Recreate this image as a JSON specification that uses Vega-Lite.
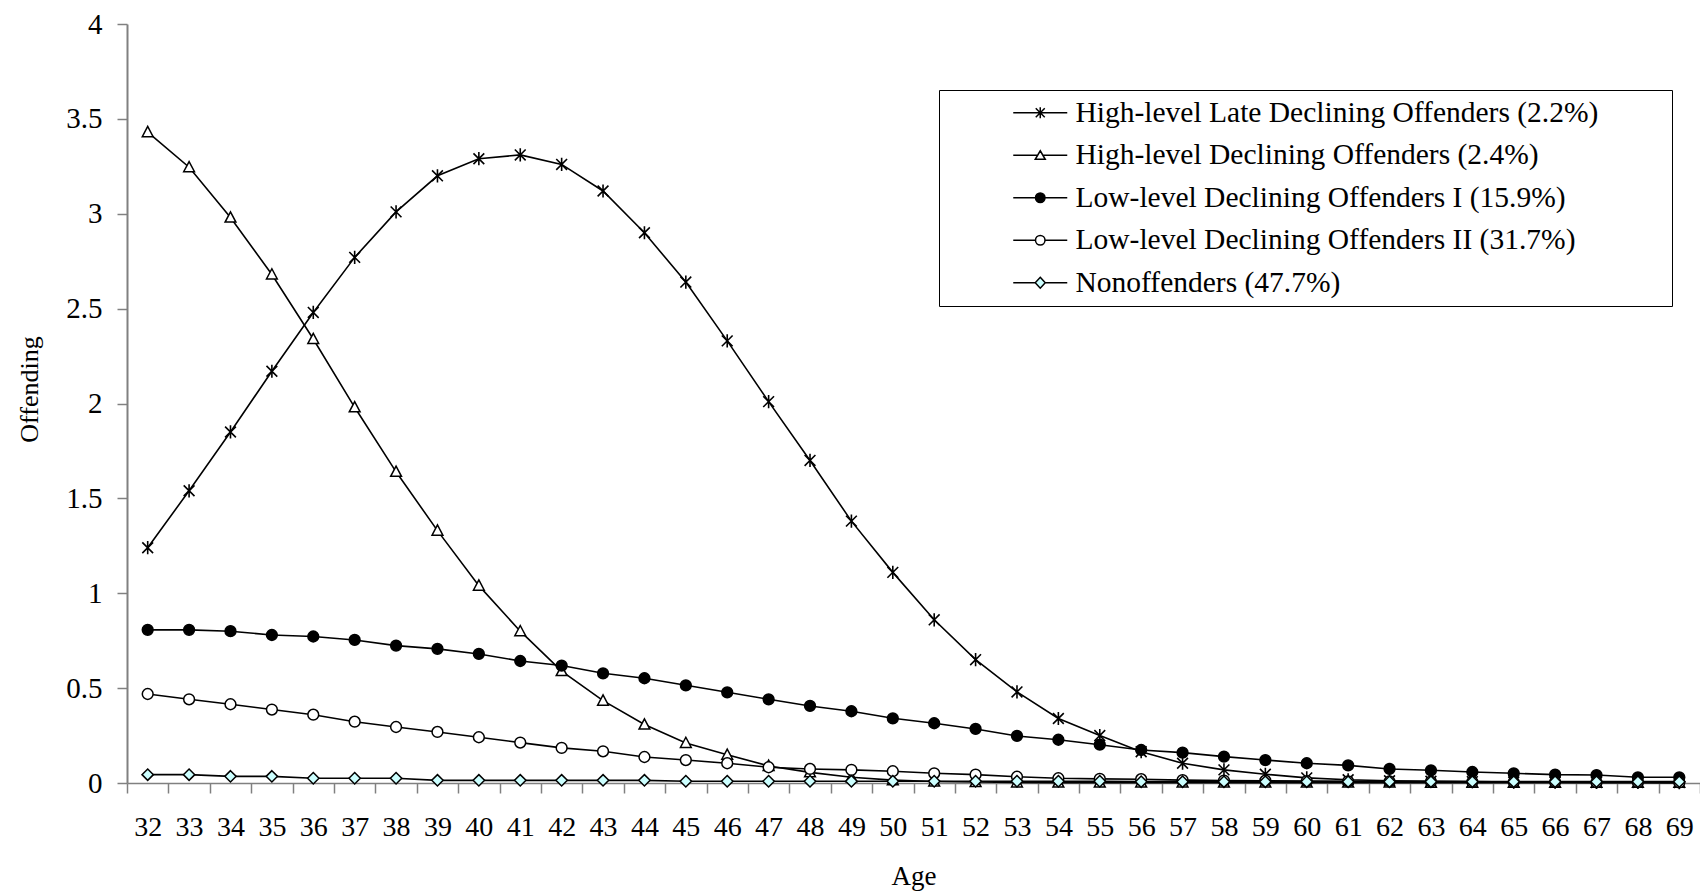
{
 "$schema": "https://vega.github.io/schema/vega-lite/v6.json",
 "width": 1573, "height": 759,
 "autosize": {"type": "none"},
 "padding": {"left": 127, "top": 24, "right": 0, "bottom": 108},
 "background": "white",
 "config": {"view": {"stroke": null}, "font": "Liberation Serif"},
 "data": {"values": [
{"age":32,"s":"A","v":1.24},{"age":33,"s":"A","v":1.54},{"age":34,"s":"A","v":1.85},{"age":35,"s":"A","v":2.17},{"age":36,"s":"A","v":2.48},{"age":37,"s":"A","v":2.77},{"age":38,"s":"A","v":3.01},{"age":39,"s":"A","v":3.2},{"age":40,"s":"A","v":3.29},{"age":41,"s":"A","v":3.31},{"age":42,"s":"A","v":3.26},{"age":43,"s":"A","v":3.12},{"age":44,"s":"A","v":2.9},{"age":45,"s":"A","v":2.64},{"age":46,"s":"A","v":2.33},{"age":47,"s":"A","v":2.01},{"age":48,"s":"A","v":1.7},{"age":49,"s":"A","v":1.38},{"age":50,"s":"A","v":1.11},{"age":51,"s":"A","v":0.86},{"age":52,"s":"A","v":0.65},{"age":53,"s":"A","v":0.48},{"age":54,"s":"A","v":0.34},{"age":55,"s":"A","v":0.25},{"age":56,"s":"A","v":0.165},{"age":57,"s":"A","v":0.104},{"age":58,"s":"A","v":0.069},{"age":59,"s":"A","v":0.046},{"age":60,"s":"A","v":0.027},{"age":61,"s":"A","v":0.017},{"age":62,"s":"A","v":0.012},{"age":63,"s":"A","v":0.009},{"age":64,"s":"A","v":0.007},{"age":65,"s":"A","v":0.005},{"age":66,"s":"A","v":0.004},{"age":67,"s":"A","v":0.003},{"age":68,"s":"A","v":0.003},{"age":69,"s":"A","v":0.002},
{"age":32,"s":"B","v":3.43},{"age":33,"s":"B","v":3.245},{"age":34,"s":"B","v":2.98},{"age":35,"s":"B","v":2.68},{"age":36,"s":"B","v":2.34},{"age":37,"s":"B","v":1.98},{"age":38,"s":"B","v":1.64},{"age":39,"s":"B","v":1.33},{"age":40,"s":"B","v":1.04},{"age":41,"s":"B","v":0.8},{"age":42,"s":"B","v":0.59},{"age":43,"s":"B","v":0.434},{"age":44,"s":"B","v":0.308},{"age":45,"s":"B","v":0.211},{"age":46,"s":"B","v":0.149},{"age":47,"s":"B","v":0.09},{"age":48,"s":"B","v":0.056},{"age":49,"s":"B","v":0.03},{"age":50,"s":"B","v":0.015},{"age":51,"s":"B","v":0.008},{"age":52,"s":"B","v":0.005},{"age":53,"s":"B","v":0.003},{"age":54,"s":"B","v":0.002},{"age":55,"s":"B","v":0.002},{"age":56,"s":"B","v":0.002},{"age":57,"s":"B","v":0.002},{"age":58,"s":"B","v":0.002},{"age":59,"s":"B","v":0.002},{"age":60,"s":"B","v":0.002},{"age":61,"s":"B","v":0.002},{"age":62,"s":"B","v":0.002},{"age":63,"s":"B","v":0.001},{"age":64,"s":"B","v":0.001},{"age":65,"s":"B","v":0.001},{"age":66,"s":"B","v":0.001},{"age":67,"s":"B","v":0.001},{"age":68,"s":"B","v":0.001},{"age":69,"s":"B","v":0.001},
{"age":32,"s":"C","v":0.807},{"age":33,"s":"C","v":0.807},{"age":34,"s":"C","v":0.8},{"age":35,"s":"C","v":0.78},{"age":36,"s":"C","v":0.772},{"age":37,"s":"C","v":0.754},{"age":38,"s":"C","v":0.724},{"age":39,"s":"C","v":0.707},{"age":40,"s":"C","v":0.68},{"age":41,"s":"C","v":0.643},{"age":42,"s":"C","v":0.619},{"age":43,"s":"C","v":0.578},{"age":44,"s":"C","v":0.552},{"age":45,"s":"C","v":0.515},{"age":46,"s":"C","v":0.478},{"age":47,"s":"C","v":0.441},{"age":48,"s":"C","v":0.406},{"age":49,"s":"C","v":0.378},{"age":50,"s":"C","v":0.341},{"age":51,"s":"C","v":0.315},{"age":52,"s":"C","v":0.285},{"age":53,"s":"C","v":0.248},{"age":54,"s":"C","v":0.228},{"age":55,"s":"C","v":0.202},{"age":56,"s":"C","v":0.174},{"age":57,"s":"C","v":0.16},{"age":58,"s":"C","v":0.139},{"age":59,"s":"C","v":0.121},{"age":60,"s":"C","v":0.104},{"age":61,"s":"C","v":0.093},{"age":62,"s":"C","v":0.074},{"age":63,"s":"C","v":0.067},{"age":64,"s":"C","v":0.058},{"age":65,"s":"C","v":0.051},{"age":66,"s":"C","v":0.044},{"age":67,"s":"C","v":0.042},{"age":68,"s":"C","v":0.03},{"age":69,"s":"C","v":0.03},
{"age":32,"s":"D","v":0.469},{"age":33,"s":"D","v":0.441},{"age":34,"s":"D","v":0.415},{"age":35,"s":"D","v":0.387},{"age":36,"s":"D","v":0.36},{"age":37,"s":"D","v":0.323},{"age":38,"s":"D","v":0.295},{"age":39,"s":"D","v":0.269},{"age":40,"s":"D","v":0.241},{"age":41,"s":"D","v":0.213},{"age":42,"s":"D","v":0.185},{"age":43,"s":"D","v":0.167},{"age":44,"s":"D","v":0.137},{"age":45,"s":"D","v":0.121},{"age":46,"s":"D","v":0.104},{"age":47,"s":"D","v":0.083},{"age":48,"s":"D","v":0.074},{"age":49,"s":"D","v":0.069},{"age":50,"s":"D","v":0.062},{"age":51,"s":"D","v":0.051},{"age":52,"s":"D","v":0.044},{"age":53,"s":"D","v":0.033},{"age":54,"s":"D","v":0.025},{"age":55,"s":"D","v":0.022},{"age":56,"s":"D","v":0.02},{"age":57,"s":"D","v":0.015},{"age":58,"s":"D","v":0.013},{"age":59,"s":"D","v":0.012},{"age":60,"s":"D","v":0.01},{"age":61,"s":"D","v":0.009},{"age":62,"s":"D","v":0.008},{"age":63,"s":"D","v":0.007},{"age":64,"s":"D","v":0.006},{"age":65,"s":"D","v":0.005},{"age":66,"s":"D","v":0.005},{"age":67,"s":"D","v":0.004},{"age":68,"s":"D","v":0.004},{"age":69,"s":"D","v":0.003},
{"age":32,"s":"E","v":0.044},{"age":33,"s":"E","v":0.044},{"age":34,"s":"E","v":0.035},{"age":35,"s":"E","v":0.035},{"age":36,"s":"E","v":0.025},{"age":37,"s":"E","v":0.025},{"age":38,"s":"E","v":0.025},{"age":39,"s":"E","v":0.014},{"age":40,"s":"E","v":0.014},{"age":41,"s":"E","v":0.014},{"age":42,"s":"E","v":0.014},{"age":43,"s":"E","v":0.014},{"age":44,"s":"E","v":0.014},{"age":45,"s":"E","v":0.009},{"age":46,"s":"E","v":0.009},{"age":47,"s":"E","v":0.009},{"age":48,"s":"E","v":0.009},{"age":49,"s":"E","v":0.009},{"age":50,"s":"E","v":0.009},{"age":51,"s":"E","v":0.009},{"age":52,"s":"E","v":0.009},{"age":53,"s":"E","v":0.009},{"age":54,"s":"E","v":0.009},{"age":55,"s":"E","v":0.009},{"age":56,"s":"E","v":0.007},{"age":57,"s":"E","v":0.007},{"age":58,"s":"E","v":0.007},{"age":59,"s":"E","v":0.007},{"age":60,"s":"E","v":0.007},{"age":61,"s":"E","v":0.007},{"age":62,"s":"E","v":0.007},{"age":63,"s":"E","v":0.007},{"age":64,"s":"E","v":0.007},{"age":65,"s":"E","v":0.007},{"age":66,"s":"E","v":0.007},{"age":67,"s":"E","v":0.007},{"age":68,"s":"E","v":0.007},{"age":69,"s":"E","v":0.007}
 ]},
 "transform": [
  {"lookup": "s", "from": {"data": {"values": [
    {"s": "A", "name": "High-level Late Declining Offenders (2.2%)"},
    {"s": "B", "name": "High-level Declining Offenders (2.4%)"},
    {"s": "C", "name": "Low-level Declining Offenders I (15.9%)"},
    {"s": "D", "name": "Low-level Declining Offenders II (31.7%)"},
    {"s": "E", "name": "Nonoffenders (47.7%)"}
  ]}, "key": "s", "fields": ["name"]}}
 ],
 "encoding": {
  "x": {"field": "age", "type": "ordinal", "bandPosition": 0.5,
   "scale": {"type": "band", "paddingInner": 0, "paddingOuter": 0},
   "axis": {"title": "Age", "titleFont": "Liberation Serif", "titleFontSize": 27, "titleFontWeight": "normal", "titleColor": "black", "titlePadding": 22,
    "labelAngle": 0, "labelFont": "Liberation Serif", "labelFontSize": 28, "labelColor": "black", "labelPadding": 20,
    "tickBand": "extent", "tickSize": 10, "tickColor": "#808080", "tickWidth": 1.5, "domainColor": "#808080", "domainWidth": 1.5, "grid": false}},
  "y": {"field": "v", "type": "quantitative",
   "scale": {"domain": [0, 4], "nice": false},
   "axis": {"title": "Offending", "titleFont": "Liberation Serif", "titleFontSize": 26, "titleFontWeight": "normal", "titleColor": "black",
    "titleX": -90, "titleY": 365, "titleBaseline": "alphabetic", "titleAlign": "center", "titleAngle": -90,
    "values": [0, 0.5, 1, 1.5, 2, 2.5, 3, 3.5, 4], "format": ".1~f",
    "labelFont": "Liberation Serif", "labelFontSize": 29, "labelColor": "black", "labelPadding": 15,
    "tickSize": 10, "tickColor": "#808080", "tickWidth": 1.5, "domainColor": "#808080", "domainWidth": 2, "grid": false}}
 },
 "layer": [
  {"mark": {"type": "line", "color": "black", "strokeWidth": 1.6},
   "encoding": {"detail": {"field": "s"}}},
  {"transform": [{"filter": {"field": "s", "equal": "A"}}],
   "mark": {"type": "point", "shape": "M-0.9,-0.9L0.9,0.9M-0.9,0.9L0.9,-0.9M0,-1.1L0,1.1", "filled": false, "fill": "white", "stroke": "black", "strokeWidth": 1.6, "size": 144, "opacity": 1}},
  {"transform": [{"filter": {"field": "s", "equal": "B"}}],
   "mark": {"type": "point", "shape": "M0,-0.95L0.9,0.75L-0.9,0.75Z", "filled": true, "fill": "white", "stroke": "black", "strokeWidth": 1.5, "size": 144, "opacity": 1}},
  {"transform": [{"filter": {"field": "s", "equal": "C"}}],
   "mark": {"type": "point", "shape": "M0.9,0A0.9,0.9 0 1,1 -0.9,0A0.9,0.9 0 1,1 0.9,0Z", "filled": true, "fill": "black", "stroke": "black", "strokeWidth": 1.5, "size": 144, "opacity": 1}},
  {"transform": [{"filter": {"field": "s", "equal": "D"}}],
   "mark": {"type": "point", "shape": "M0.9,0A0.9,0.9 0 1,1 -0.9,0A0.9,0.9 0 1,1 0.9,0Z", "filled": true, "fill": "white", "stroke": "black", "strokeWidth": 1.5, "size": 144, "opacity": 1}},
  {"transform": [{"filter": {"field": "s", "equal": "E"}}],
   "mark": {"type": "point", "shape": "M0,-0.95L0.95,0L0,0.95L-0.95,0Z", "filled": true, "fill": "#CCFFFF", "stroke": "black", "strokeWidth": 1.5, "size": 144, "opacity": 1}},
  {"mark": {"type": "point", "filled": true, "opacity": 1, "size": 0, "stroke": "black", "strokeWidth": 1.5},
   "encoding": {
    "shape": {"field": "name", "type": "nominal",
     "scale": {"domain": ["High-level Late Declining Offenders (2.2%)", "High-level Declining Offenders (2.4%)", "Low-level Declining Offenders I (15.9%)", "Low-level Declining Offenders II (31.7%)", "Nonoffenders (47.7%)"],
      "range": ["M-5.4,0L5.4,0M-0.9,-0.9L0.9,0.9M-0.9,0.9L0.9,-0.9M0,-1.1L0,1.1", "M-5.4,0L-0.53,0M0.53,0L5.4,0M0,-0.9L1,0.8L-1,0.8Z", "M-5.4,0L5.4,0M0.95,0A0.95,0.95 0 1,1 -0.95,0A0.95,0.95 0 1,1 0.95,0Z", "M-5.4,0L-0.95,0M0.95,0L5.4,0M0.95,0A0.95,0.95 0 1,1 -0.95,0A0.95,0.95 0 1,1 0.95,0Z", "M-5.4,0L-1,0M1,0L5.4,0M0,-1.1L1,0L0,1.1L-1,0Z"]},
     "legend": {"title": " ", "titleOrient": "right", "titlePadding": 66, "orient": "none", "legendX": 812, "legendY": 66,
      "padding": 8, "symbolSize": 100, "symbolOffset": 78.5, "labelOffset": 20.5, "rowPadding": 11.5,
      "labelFont": "Liberation Serif", "labelFontSize": 29.5, "labelColor": "black", "labelLimit": 2000,
      "strokeColor": "black", "fillColor": "white"}},
    "fill": {"field": "name", "type": "nominal",
     "scale": {"domain": ["High-level Late Declining Offenders (2.2%)", "High-level Declining Offenders (2.4%)", "Low-level Declining Offenders I (15.9%)", "Low-level Declining Offenders II (31.7%)", "Nonoffenders (47.7%)"],
      "range": ["white", "white", "black", "white", "#CCFFFF"]},
     "legend": null}
   }}
 ]
}
